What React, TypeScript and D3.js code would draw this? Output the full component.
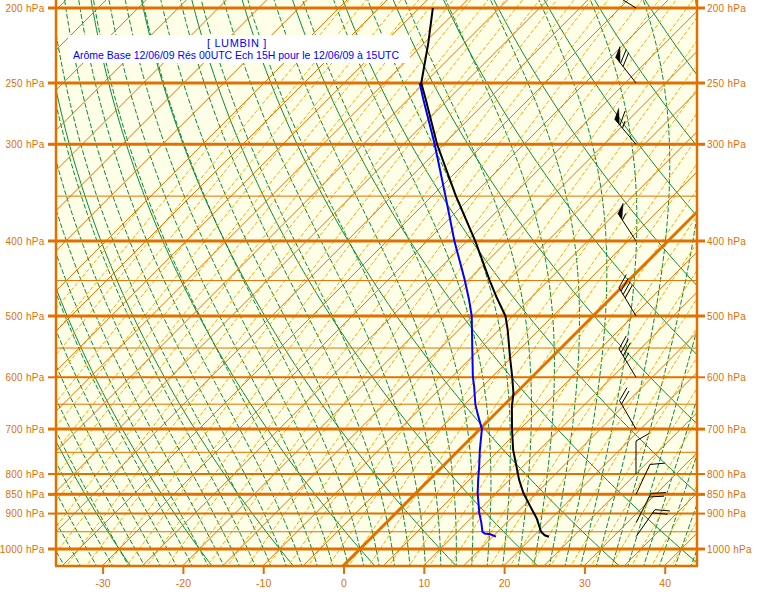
import React from 'react';
import * as d3 from 'd3';

const W = 757, H = 595;
const PL = 56, PR = 697, PT = 0, PB = 565;

const labelLevels = [200, 250, 300, 400, 500, 600, 700, 800, 850, 900, 1000];
const thickLevels = [200, 250, 300, 400, 500, 700, 850, 1000];
const mediumLevels = [600, 800, 900];
const thinLevels = [350, 450, 550, 650, 750, 950];
const tempTicks = [-30, -20, -10, 0, 10, 20, 30, 40];

const isothermValues = d3.range(-120, 55, 5);
const dryThetaValues = d3.range(-60, 170, 10);
const moistThetaWValues = d3.range(-40, 46, 2);
const mixingTdValues = d3.range(-70, 47.5, 2.5);

const tempP = [200, 222, 238, 250, 263, 300, 350, 400, 449, 474, 500, 521, 564, 599, 629, 655, 700, 745, 790, 814, 847, 881, 913, 950, 960, 964];
const tempT = [-58.3, -54.5, -52.1, -50.4, -47.7, -40.8, -32.0, -24.0, -17.4, -14.2, -10.9, -8.9, -5.3, -2.5, -0.3, 1.2, 4.0, 6.75, 9.7, 11.2, 13.4, 15.9, 18.2, 20.4, 21.3, 22.0];

const dewP = [250, 262, 300, 350, 400, 448, 476, 500, 548, 599, 617, 651, 675, 700, 745, 783, 814, 847, 899, 926, 950, 955, 957, 964];
const dewTd = [-50.6, -48.2, -41.1, -33.3, -26.6, -20.6, -17.5, -15.1, -11.2, -7.4, -6.0, -3.6, -1.7, 0.25, 2.6, 4.6, 6.1, 7.7, 10.4, 11.9, 13.1, 13.6, 14.4, 15.4];

const windP = [200, 250, 300, 400, 500, 600, 700, 800, 850, 925, 964];
const windDir = [302, 322, 320, 327, 329, 329, 330, 0, 25, 27, 35];
const windSpd = [70, 70, 65, 55, 40, 35, 20, 10, 10, 20, 20];

const titleLine1 = '[ LUMBIN ]';
const titleLine2 = 'Arôme Base 12/06/09 Rés 00UTC Ech 15H pour le 12/06/09 à 15UTC';

const ORANGE = '#e07000';
const LIGHT_ORANGE = '#ffa500';
const GREEN = '#008a33';
const BG = '#ffffe8';

const yS = d3.scaleLog().domain([200, 1000]).range([8, 549]);
const xS = d3.scaleLinear().domain([-30, 40]).range([103.1, 665.2]);
const X = (T: number, p: number) => xS(T) + (PB - yS(p));

const pGrid = d3.range(0, 161).map(i => 1060 * Math.pow(185 / 1060, i / 160));

const es = (Tc: number) => 6.112 * Math.exp((17.67 * Tc) / (Tc + 243.5));
const rsat = (Tc: number, p: number) => { const e = es(Tc); return 0.622 * e / (p - e); };
const dTdlnp = (Tk: number, p: number) => {
  const Rd = 287.04, cp = 1005.7, Lv = 2.501e6, eps = 0.622;
  const r = rsat(Tk - 273.15, p);
  return (Rd * Tk + Lv * r) / (cp + (Lv * Lv * r * eps) / (Rd * Tk * Tk));
};

function moistCurve(thw: number): [number, number][] {
  const pts: [number, number][] = [];
  const integrate = (pEnd: number, n: number) => {
    const out: [number, number][] = [];
    let T = thw + 273.15;
    let lp = Math.log(1000);
    const h = (Math.log(pEnd) - lp) / n;
    out.push([1000, T]);
    for (let i = 0; i < n; i++) {
      const f = (t: number, l: number) => dTdlnp(t, Math.exp(l));
      const k1 = f(T, lp);
      const k2 = f(T + h * k1 / 2, lp + h / 2);
      const k3 = f(T + h * k2 / 2, lp + h / 2);
      const k4 = f(T + h * k3, lp + h);
      T += (h / 6) * (k1 + 2 * k2 + 2 * k3 + k4);
      lp += h;
      out.push([Math.exp(lp), T]);
    }
    return out;
  };
  const up = integrate(185, 120);
  const down = integrate(1060, 6).reverse();
  down.pop();
  for (const [p, T] of down) pts.push([X(T - 273.15, p), yS(p)]);
  for (const [p, T] of up) pts.push([X(T - 273.15, p), yS(p)]);
  return pts;
}

function dryCurve(th: number): [number, number][] {
  return pGrid.map(p => {
    const Tk = (th + 273.15) * Math.pow(p / 1000, 0.2857);
    return [X(Tk - 273.15, p), yS(p)] as [number, number];
  });
}

function mixingCurve(td1000: number): [number, number][] {
  const e0 = es(td1000);
  const w = 0.622 * e0 / (1000 - e0);
  const pts: [number, number][] = [];
  for (const p of pGrid) {
    const e = w * p / (0.622 + w);
    const a = Math.log(e / 6.112);
    const td = 243.5 * a / (17.67 - a);
    if (td < -70) break;
    pts.push([X(td, p), yS(p)]);
  }
  return pts;
}

const lineGen = d3.line<[number, number]>().x(d => d[0]).y(d => d[1]);

function barb(p: number, dir: number, spd: number, key: number) {
  const bx = 636, by = yS(p);
  const a = (dir * Math.PI) / 180;
  const ux = Math.sin(a), uy = -Math.cos(a);
  const L = 33;
  const tx = bx + L * ux, ty = by + L * uy;
  const rot = (60 * Math.PI) / 180;
  const fx = ux * Math.cos(rot) - uy * Math.sin(rot);
  const fy = ux * Math.sin(rot) + uy * Math.cos(rot);
  const FL = 15;
  const els: React.ReactNode[] = [];
  els.push(<line key="s" x1={bx} y1={by} x2={tx} y2={ty} stroke="#000" strokeWidth={1} />);
  let s = spd;
  let pos = 0;
  let i = 0;
  while (s >= 50) {
    const x0 = tx - ux * pos, y0 = ty - uy * pos;
    const x1 = tx - ux * (pos + 7), y1 = ty - uy * (pos + 7);
    const xa = x0 + fx * FL * 0.75, ya = y0 + fy * FL * 0.75;
    els.push(<polygon key={'p' + i++} points={`${x0},${y0} ${xa},${ya} ${x1},${y1}`} fill="#000" stroke="#000" strokeWidth={0.5} />);
    pos += 8;
    s -= 50;
  }
  while (s >= 10) {
    const x0 = tx - ux * pos, y0 = ty - uy * pos;
    els.push(<line key={'f' + i++} x1={x0} y1={y0} x2={x0 + fx * FL} y2={y0 + fy * FL} stroke="#000" strokeWidth={1} />);
    pos += 4;
    s -= 10;
  }
  if (s >= 5) {
    if (pos === 0) pos = 4;
    const x0 = tx - ux * pos, y0 = ty - uy * pos;
    els.push(<line key={'h' + i++} x1={x0} y1={y0} x2={x0 + fx * FL * 0.5} y2={y0 + fy * FL * 0.5} stroke="#000" strokeWidth={1} />);
  }
  return <g key={key}>{els}</g>;
}

export default function App() {
  const isotherms = isothermValues.map(T => ({ T, pts: [[X(T, 1060), yS(1060)], [X(T, 185), yS(185)]] as [number, number][] }));
  const dry = dryThetaValues.map(th => dryCurve(th));
  const moist = moistThetaWValues.map(t => moistCurve(t));
  const mixing = mixingTdValues.map(t => mixingCurve(t)).filter(c => c.length > 1);
  const tempPts = tempP.map((p, i) => [X(tempT[i], p), yS(p)] as [number, number]);
  const dewPts = dewP.map((p, i) => [X(dewTd[i], p), yS(p)] as [number, number]);
  const font = "'Liberation Sans', Arial, sans-serif";

  const levelWidth = (p: number) => (thickLevels.includes(p) ? 3 : mediumLevels.includes(p) ? 2 : 1);
  const allLevels = [...thickLevels, ...mediumLevels, ...thinLevels];

  return (
    <svg width={W} height={H} style={{ position: 'absolute', left: 0, top: 0, background: '#fff' }}>
      <defs>
        <clipPath id="plot">
          <rect x={PL} y={PT} width={PR - PL} height={PB - PT} />
        </clipPath>
      </defs>
      <rect x={0} y={0} width={W} height={H} fill="#fff" />
      <rect x={PL} y={PT} width={PR - PL} height={PB - PT} fill={BG} />
      <g clipPath="url(#plot)">
        {dry.map((c, i) => (
          <path key={'d' + i} d={lineGen(c) || ''} fill="none" stroke={GREEN} strokeWidth={1} />
        ))}
        {moist.map((c, i) => (
          <path key={'m' + i} d={lineGen(c) || ''} fill="none" stroke={GREEN} strokeWidth={1} strokeDasharray="5,2" />
        ))}
        {mixing.map((c, i) => (
          <path key={'w' + i} d={lineGen(c) || ''} fill="none" stroke={LIGHT_ORANGE} strokeWidth={1} strokeDasharray="4,2" />
        ))}
        {isotherms.map((it, i) => (
          <path key={'t' + i} d={lineGen(it.pts) || ''} fill="none" stroke={ORANGE} strokeWidth={it.T === 0 ? 3 : 1} />
        ))}
        {allLevels.map(p => (
          <line key={'i' + p} x1={PL} x2={PR} y1={yS(p)} y2={yS(p)} stroke={ORANGE} strokeWidth={levelWidth(p)} />
        ))}
        <path d={lineGen(dewPts) || ''} fill="none" stroke="#0000ff" strokeWidth={2} />
        <path d={lineGen(tempPts) || ''} fill="none" stroke="#000" strokeWidth={2} />
        {windP.map((p, i) => barb(p, windDir[i], windSpd[i], i))}
      </g>
      <line x1={PL} x2={PL} y1={0} y2={PB + 1} stroke={ORANGE} strokeWidth={2.5} />
      <line x1={PR} x2={PR} y1={0} y2={PB + 1} stroke={ORANGE} strokeWidth={2.5} />
      <line x1={PL - 1} x2={PR + 1} y1={PB + 1} y2={PB + 1} stroke={ORANGE} strokeWidth={2.5} />
      {labelLevels.map(p => (
        <g key={'l' + p}>
          <line x1={48} x2={PL} y1={yS(p)} y2={yS(p)} stroke={ORANGE} strokeWidth={Math.max(2, levelWidth(p))} />
          <line x1={PR} x2={705} y1={yS(p)} y2={yS(p)} stroke={ORANGE} strokeWidth={Math.max(2, levelWidth(p))} />
          <text x={44.5} y={yS(p)} dy="0.36em" textAnchor="end" fontFamily={font} fontSize={10} fill={ORANGE} letterSpacing={0.25}>{p} hPa</text>
          <text x={707} y={yS(p)} dy="0.36em" textAnchor="start" fontFamily={font} fontSize={10} fill={ORANGE} letterSpacing={0.25}>{p} hPa</text>
        </g>
      ))}
      {tempTicks.map(t => (
        <g key={'x' + t}>
          <line x1={xS(t)} x2={xS(t)} y1={PB} y2={574} stroke={ORANGE} strokeWidth={2} />
          <text x={xS(t)} y={583} dy="0.35em" textAnchor="middle" fontFamily={font} fontSize={10.5} fill={ORANGE}>{t}</text>
        </g>
      ))}
      <rect x={68} y={35} width={342} height={28} fill="#fff" />
      <text x={237} y={46.5} textAnchor="middle" fontFamily={font} fontSize={11} fill="#0000ff" letterSpacing={0.6}>{titleLine1}</text>
      <text x={73} y={58.5} fontFamily={font} fontSize={11} fill="#0000ff" textLength={326} lengthAdjust="spacingAndGlyphs">{titleLine2}</text>
    </svg>
  );
}
